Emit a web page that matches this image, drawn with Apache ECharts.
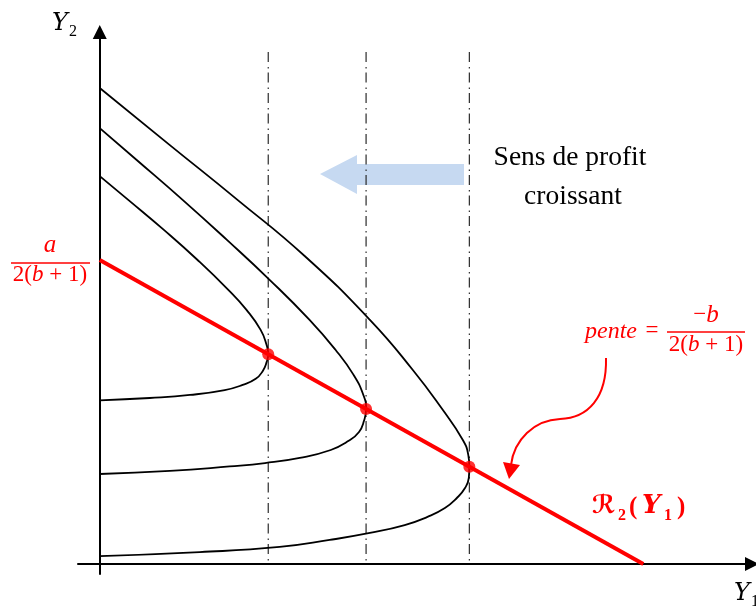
<!DOCTYPE html>
<html>
<head>
<meta charset="utf-8">
<script src="https://cdn.jsdelivr.net/npm/echarts@6/dist/echarts.min.js"></script>
<style>
  html, body { margin: 0; padding: 0; background: #fff; }
  #chart { width: 756px; height: 608px; }
</style>
</head>
<body>
<div id="chart"></div>
<script>
// Reaction function R2(Y1): from a/(2(b+1)) on the Y2 axis down to the Y1 axis
const reactionLine = [[0, 10], [10, 0]];

// Firm 2 optima: where each isoprofit curve turns vertical
const optimumY1 = [3.1, 4.9, 6.8];
const optimumY2 = [6.9, 5.1, 3.2];

// Top of the dash-dot guides
const guideTop = 16.84;

// Isoprofit curves, from the upper Y2 intercept through the optimum back to the Y2 axis
const isoprofit1 = [
  [0, 12.76], [0.53, 11.97], [1.18, 10.99], [1.80, 10.00], [2.37, 9.01],
  [2.70, 8.36], [2.96, 7.70], [3.07, 7.20], [3.1, 6.9], [3.07, 6.64],
  [3.00, 6.35], [2.87, 6.09], [2.63, 5.89], [2.30, 5.72], [1.66, 5.56],
  [0.92, 5.46], [0, 5.38]
];
const isoprofit2 = [
  [0, 14.34], [0.68, 13.29], [1.53, 11.97], [2.34, 10.66], [3.13, 9.34],
  [3.86, 8.03], [4.34, 7.04], [4.67, 6.22], [4.85, 5.56], [4.9, 5.1],
  [4.86, 4.70], [4.77, 4.34], [4.58, 4.05], [4.25, 3.75], [3.68, 3.49],
  [3.04, 3.32], [2.39, 3.21], [1.29, 3.06], [0, 2.96]
];
const isoprofit3 = [
  [0, 15.66], [1.29, 13.78], [2.54, 11.97], [3.77, 10.13], [4.97, 8.03],
  [5.76, 6.38], [6.31, 5.07], [6.68, 4.08], [6.78, 3.59], [6.8, 3.2],
  [6.79, 2.83], [6.72, 2.50], [6.57, 2.17], [6.35, 1.84], [6.03, 1.55],
  [5.61, 1.28], [4.97, 1.02], [4.23, 0.79], [3.31, 0.56], [1.84, 0.39],
  [0, 0.26]
];

const isoprofits = [isoprofit1, isoprofit2, isoprofit3];

const RED = '#ff0000';
const SERIF = "'Liberation Serif', 'DejaVu Serif', serif";
const AXIS_ITALIC = "'DejaVu Serif', 'Liberation Serif', serif";

const chart = echarts.init(document.getElementById('chart'), null, { renderer: 'canvas' });

// Place text by its baseline (canvas "middle" sits about 0.34em above it)
function txt(text, x, baseline, size, opts) {
  opts = opts || {};
  return {
    type: 'text',
    x: x,
    y: baseline - 0.34 * size,
    z: 100,
    style: {
      text: text,
      fontSize: size,
      fontFamily: opts.family || SERIF,
      fontStyle: opts.italic ? 'italic' : 'normal',
      fontWeight: opts.bold ? 'bold' : 'normal',
      fill: opts.color || '#000',
      align: opts.align || 'left',
      verticalAlign: 'middle',
      rich: opts.rich
    }
  };
}

// "2(b + 1)" with an italic b
function denominator(cx, baseline) {
  return txt('{n|2(}{i|b}{n| + 1)}', cx, baseline, 23, {
    align: 'center', color: RED,
    rich: {
      n: { fontSize: 23, fontFamily: SERIF, fill: RED },
      i: { fontSize: 23, fontFamily: SERIF, fontStyle: 'italic', fill: RED }
    }
  });
}

const axisCommon = {
  type: 'value',
  axisLine: {
    show: true,
    onZero: true,
    symbol: ['none', 'triangle'],
    symbolSize: [14, 14],
    lineStyle: { color: '#000', width: 2 }
  },
  axisTick: { show: false },
  axisLabel: { show: false },
  splitLine: { show: false }
};

const series = [];

// dash-dot guides drawn top-down so the pattern starts with a dash at the top
optimumY1.forEach(function (x) {
  series.push({
    type: 'line',
    data: [[x, guideTop], [x, 0]],
    symbol: 'none',
    silent: true,
    z: 2,
    lineStyle: { color: '#2a2a2a', width: 1.2, type: [10, 5, 1.5, 4] }
  });
});

isoprofits.forEach(function (pts) {
  series.push({
    type: 'line',
    data: pts,
    smooth: 0.5,
    symbol: 'none',
    silent: true,
    z: 3,
    lineStyle: { color: '#000', width: 1.8 }
  });
});

series.push({
  type: 'line',
  data: reactionLine,
  symbol: 'none',
  silent: true,
  z: 4,
  lineStyle: { color: RED, width: 4 }
});

series.push({
  type: 'scatter',
  data: optimumY1.map(function (x, i) { return [x, optimumY2[i]]; }),
  symbol: 'circle',
  symbolSize: 12,
  z: 5,
  itemStyle: { color: RED }
});

const graphics = [
  // direction of increasing profit
  {
    type: 'polygon',
    z: 0,
    shape: { points: [[320, 174], [357, 155], [357, 164], [464, 164], [464, 185], [357, 185], [357, 194]] },
    style: { fill: '#c6d9f1' }
  },
  txt('Sens de profit', 570, 167, 27.5, { align: 'center' }),
  txt('croissant', 573, 206, 27.5, { align: 'center' }),

  // axis names
  txt('Y', 52, 32, 24, { italic: true, family: AXIS_ITALIC }),
  txt('2', 69, 37, 16),
  txt('Y', 734, 602, 24, { italic: true, family: AXIS_ITALIC }),
  txt('1', 751, 607, 16),

  // intercept a / (2(b+1))
  txt('a', 50, 254, 25, { italic: true, color: RED, align: 'center' }),
  { type: 'line', z: 100, shape: { x1: 11, y1: 263, x2: 90, y2: 263 }, style: { stroke: RED, lineWidth: 1.6 } },
  denominator(50, 283),

  // slope of the reaction line
  txt('pente', 585, 340, 24, { italic: true, color: RED }),
  txt('=', 652, 339, 23, { color: RED, align: 'center' }),
  txt('{n|\u2212}{i|b}', 706, 323, 23, {
    align: 'center', color: RED,
    rich: {
      n: { fontSize: 23, fontFamily: SERIF, fill: RED },
      i: { fontSize: 25, fontFamily: SERIF, fontStyle: 'italic', fill: RED }
    }
  }),
  { type: 'line', z: 100, shape: { x1: 667, y1: 332, x2: 745, y2: 332 }, style: { stroke: RED, lineWidth: 1.6 } },
  denominator(706, 353),

  // curved pointer to the reaction line
  {
    type: 'bezierCurve', z: 100,
    shape: { x1: 606, y1: 358, cpx1: 607, cpy1: 398, cpx2: 588, cpy2: 418, x2: 560, y2: 419 },
    style: { stroke: RED, lineWidth: 2, fill: null }
  },
  {
    type: 'bezierCurve', z: 100,
    shape: { x1: 560, y1: 419, cpx1: 534, cpy1: 420, cpx2: 514, cpy2: 440, x2: 511, y2: 465 },
    style: { stroke: RED, lineWidth: 2, fill: null }
  },
  {
    type: 'polygon', z: 100,
    shape: { points: [[503, 462], [520, 465], [509, 479]] },
    style: { fill: RED }
  },

  // R2(Y1) label
  txt('\u211B', 592, 515, 25, { bold: true, italic: true, color: RED, family: "'DejaVu Serif', 'DejaVu Sans', 'Noto Sans CJK SC', serif" }),
  txt('2', 618, 521, 16, { bold: true, color: RED }),
  txt('(', 629, 516, 25, { bold: true, color: RED }),
  txt('Y', 642, 515, 26, { bold: true, italic: true, color: RED, family: AXIS_ITALIC }),
  txt('1', 664, 521, 16, { bold: true, color: RED }),
  txt(')', 677, 516, 25, { bold: true, color: RED })
];

chart.setOption({
  animation: false,
  backgroundColor: '#fff',
  grid: { left: 78, right: 4, top: 32, bottom: 34 },
  xAxis: Object.assign({}, axisCommon, { min: -0.4, max: 12 }),
  yAxis: Object.assign({}, axisCommon, { min: -0.33, max: 17.5 }),
  series: series,
  graphic: graphics
});
</script>
</body>
</html>
